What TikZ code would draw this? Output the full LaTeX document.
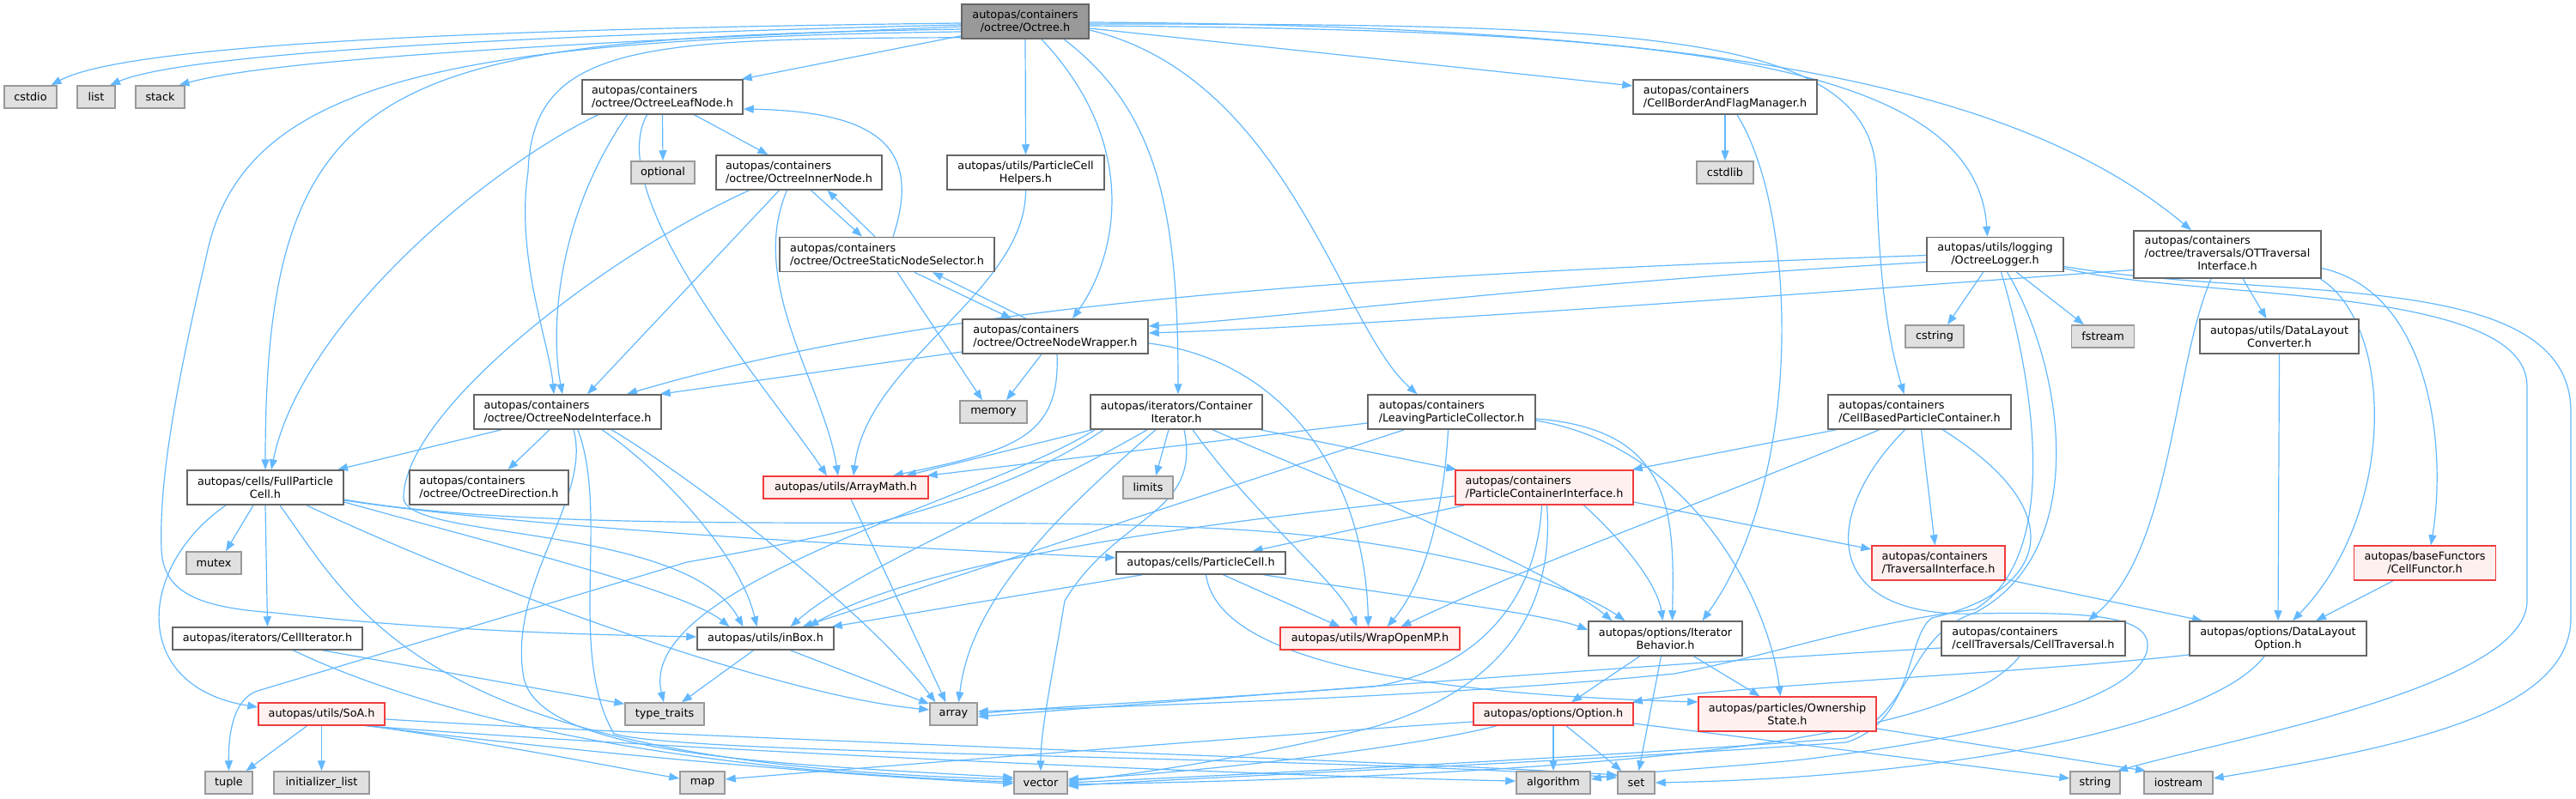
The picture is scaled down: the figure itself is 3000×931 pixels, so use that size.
\documentclass[tikz,border=0pt]{standalone}
\usepackage{fontspec}
\setmainfont{DejaVu Sans}
\usetikzlibrary{arrows.meta}
\pgfdeclarelayer{edgelayer}
\pgfsetlayers{edgelayer,main}
\definecolor{edgec}{HTML}{63B8FF}
\definecolor{bd}{HTML}{666666}
\definecolor{bdl}{HTML}{999999}
\definecolor{gfill}{HTML}{E0E0E0}
\definecolor{rfill}{HTML}{FFF0F0}
\definecolor{rbd}{HTML}{F03C3C}
\newcommand{\nfnt}{\fontsize{12.8}{15}\selectfont}
\tikzset{
  nb/.style={draw=bd, fill=white, line width=1.5pt, inner sep=0pt, font=\nfnt, text=black},
  gb/.style={nb, draw=bdl, fill=gfill, minimum height=26pt},
  rb/.style={nb, draw=rbd, fill=rfill},
  rootb/.style={nb, fill=bdl},
  hs/.style={minimum height=26pt},
  hl/.style={minimum height=40pt},
  mw/.style={minimum width=#1},
  e/.style={draw=edgec, line width=1.2pt, -{Triangle[length=12pt,width=9pt]}},
}
\begin{document}
\begin{tikzpicture}[x=1pt,y=-1pt]
\useasboundingbox (0,0) rectangle (3000,931);
% ---------------- nodes ----------------
\node[rootb, mw=148pt, hl, align=center] (root) at (1194,25) {autopas/containers\\/octree/Octree.h};
\node[gb, mw=61pt] (cstdio) at (35.5,113) {cstdio};
\node[gb, mw=44pt] (list) at (112,113) {list};
\node[gb, mw=57pt] (stack) at (186.5,113) {stack};
\node[nb, mw=187pt, hl, align=left] (leaf) at (771.5,113) {autopas/containers\\/octree/OctreeLeafNode.h};
\node[gb, mw=74pt] (optional) at (772,201) {optional};
\node[nb, mw=193pt, hl, align=left] (inner) at (930.5,201) {autopas/containers\\/octree/OctreeInnerNode.h};
\node[nb, mw=183pt, hl, align=center] (pch) at (1194.5,201) {autopas/utils/ParticleCell\\Helpers.h};
\node[nb, mw=250pt, hl, align=left] (sel) at (1033,296.5) {autopas/containers\\/octree/OctreeStaticNodeSelector.h};
\node[nb, mw=216pt, hl, align=left] (wrap) at (1229,392) {autopas/containers\\/octree/OctreeNodeWrapper.h};
\node[gb, mw=78pt] (memory) at (1157,480) {memory};
\node[nb, mw=214pt, hl, align=left] (cbafm) at (2009,113) {autopas/containers\\/CellBorderAndFlagManager.h};
\node[gb, mw=66pt] (cstdlib) at (2009,201) {cstdlib};
\node[nb, mw=159pt, hl, align=center] (logger) at (2323.5,296.5) {autopas/utils/logging\\/OctreeLogger.h};
\node[gb, mw=68pt] (cstring) at (2253,392) {cstring};
\node[gb, mw=73pt] (fstream) at (2449,392) {fstream};
\node[nb, mw=218pt, minimum height=55pt] (ott) at (2594,296.5) {\begin{tabular}{@{}l@{}}autopas/containers\\/octree/traversals/OTTraversal\\\multicolumn{1}{@{}c@{}}{Interface.h}\end{tabular}};
\node[nb, mw=185pt, hl, align=center] (dlc) at (2654.5,392) {autopas/utils/DataLayout\\Converter.h};
\node[nb, mw=218pt, hl, align=left] (nif) at (661,480) {autopas/containers\\/octree/OctreeNodeInterface.h};
\node[nb, mw=200pt, hl, align=center] (cit) at (1370,480) {autopas/iterators/Container\\Iterator.h};
\node[nb, mw=195pt, hl, align=left] (lpc) at (1690.5,480) {autopas/containers\\/LeavingParticleCollector.h};
\node[nb, mw=213pt, hl, align=left] (cbpc) at (2235.5,480) {autopas/containers\\/CellBasedParticleContainer.h};
\node[nb, mw=182pt, hl, align=center] (fpc) at (309,568) {autopas/cells/FullParticle\\Cell.h};
\node[nb, mw=185pt, hl, align=left] (odir) at (569.5,568) {autopas/containers\\/octree/OctreeDirection.h};
\node[rb, mw=192pt, hs] (amath) at (985,568) {autopas/utils/ArrayMath.h};
\node[gb, mw=58pt] (limits) at (1337,568) {limits};
\node[rb, mw=207pt, hl, align=left] (pci) at (1798.5,568) {autopas/containers\\/ParticleContainerInterface.h};
\node[gb, mw=64pt] (mutex) at (249,656) {mutex};
\node[nb, mw=197pt, hs] (pcell) at (1398.5,656) {autopas/cells/ParticleCell.h};
\node[rb, mw=155pt, hl, align=left] (tif) at (2257.5,656) {autopas/containers\\/TraversalInterface.h};
\node[rb, mw=165pt, hl, align=center] (cfun) at (2824,656) {autopas/baseFunctors\\/CellFunctor.h};
\node[nb, mw=221pt, hs] (citer) at (311.5,744) {autopas/iterators/CellIterator.h};
\node[nb, mw=159pt, hs] (inbox) at (891.5,744) {autopas/utils/inBox.h};
\node[rb, mw=209pt, hs] (womp) at (1595.5,744) {autopas/utils/WrapOpenMP.h};
\node[nb, mw=179pt, hl, align=center] (ibeh) at (1939.5,744) {autopas/options/Iterator\\Behavior.h};
\node[nb, mw=214pt, hl, align=left] (ctrav) at (2368,744) {autopas/containers\\/cellTraversals/CellTraversal.h};
\node[nb, mw=206pt, hl, align=center] (dlo) at (2653,744) {autopas/options/DataLayout\\Option.h};
\node[rb, mw=147pt, hs] (soa) at (374.5,832) {autopas/utils/SoA.h};
\node[gb, mw=92pt] (ttraits) at (774,832) {type\_traits};
\node[gb, mw=55pt] (array) at (1110.5,832) {array};
\node[rb, mw=186pt, hs] (option) at (1809,832) {autopas/options/Option.h};
\node[rb, mw=207pt, hl, align=center] (own) at (2081.5,832) {autopas/particles/Ownership\\State.h};
\node[gb, mw=55pt] (tuple) at (266.5,912) {tuple};
\node[gb, mw=111pt] (initl) at (374.5,912) {initializer\_list};
\node[gb, mw=52pt] (map) at (818,912) {map};
\node[gb, mw=62pt] (vector) at (1212,912) {vector};
\node[gb, mw=86pt] (algo) at (1809,912) {algorithm};
\node[gb, mw=43pt] (set) at (1905.5,912) {set};
\node[gb, mw=58pt] (string) at (2440,912) {string};
\node[gb, mw=80pt] (iostream) at (2537,912) {iostream};
% ---------------- edges ----------------
\begin{pgfonlayer}{edgelayer}
% root
\draw[e] ([yshift=-2pt]root.west) .. controls (600,33) and (150,50) .. ([xshift=24pt]cstdio.north);
\draw[e] ([yshift=-4pt]root.west) .. controls (650,40) and (220,60) .. ([xshift=16pt]list.north);
\draw[e] ([yshift=-6pt]root.west) .. controls (700,48) and (320,68) .. ([xshift=22pt]stack.north);
\draw[e] ([yshift=-9pt]root.west) .. controls (450,45) and (309,80) .. (fpc.north);
\draw[e] ([yshift=-12pt]root.west) .. controls (500,45) and (280,100) .. (240,300) .. controls (205,450) and (185,560) .. (188,640) .. controls (190,690) and (230,708) .. (320,714) .. controls (500,735) and (700,740) .. ([yshift=2pt]inbox.west);
\draw[e] ([yshift=2pt]root.south west) .. controls (750,45) and (620,50) .. (615,200) .. controls (600,300) and (640,400) .. ([xshift=-16pt]nif.north);
\draw[e] ([yshift=4pt]root.south west) -- ([xshift=-2pt]leaf.north east);
\draw[e] (root.south) -- (pch.north);
\draw[e] ([xshift=19pt]root.south) .. controls (1330,170) and (1300,300) .. ([xshift=20pt]wrap.north);
\draw[e] ([xshift=45pt]root.south) .. controls (1350,130) and (1372,250) .. ([xshift=2pt]cit.north);
\draw[e] ([yshift=-10pt]root.east) .. controls (1500,90) and (1560,380) .. ([xshift=-40pt]lpc.north);
\draw[e] ([yshift=-8pt]root.east) -- ([yshift=13pt]cbafm.west);
\draw[e] ([yshift=-3pt]root.east) .. controls (1900,28) and (2175,35) .. (2185,200) .. controls (2188,330) and (2200,400) .. ([xshift=-18pt]cbpc.north);
\draw[e] ([yshift=-5pt]root.east) .. controls (1900,35) and (2300,60) .. ([xshift=-9pt]logger.north);
\draw[e] ([yshift=-1pt]root.east) .. controls (2000,30) and (2350,100) .. ([xshift=-42pt]ott.north);
% leaf
\draw[e] (leaf.south) -- (optional.north);
\draw[e] ([xshift=37pt]leaf.south) -- ([xshift=-36pt]inner.north);
\draw[e] ([xshift=-75pt]leaf.south) .. controls (560,200) and (350,380) .. ([xshift=7pt]fpc.north);
\draw[e] ([xshift=-41pt]leaf.south) .. controls (650,250) and (640,380) .. ([xshift=-6pt]nif.north);
\draw[e] ([xshift=-18pt]leaf.south) .. controls (700,230) and (900,460) .. ([xshift=-22pt]amath.north);
% inner
\draw[e] ([xshift=14pt]inner.south) -- ([xshift=-29pt]sel.north);
\draw[e] ([xshift=-23pt]inner.south) -- ([xshift=23pt]nif.north);
\draw[e] ([xshift=-58pt]inner.south) .. controls (700,300) and (470,480) .. (470,580) .. controls (470,630) and (800,610) .. ([xshift=-26pt]inbox.north);
\draw[e] ([xshift=-14pt]inner.south) .. controls (870,330) and (960,450) .. ([xshift=-9pt]amath.north);
% selector
\draw[e] ([xshift=7pt]sel.north) .. controls (1075,170) and (1020,130) .. ([yshift=-14pt]leaf.east);
\draw[e] ([xshift=-14pt]sel.north) -- ([xshift=33pt]inner.south);
\draw[e] ([xshift=32pt]sel.south) -- ([xshift=-51pt]wrap.north);
\draw[e] ([xshift=12pt]sel.south) -- ([xshift=-13pt]memory.north);
% helpers
\draw[e] (pch.south) .. controls (1195,340) and (1010,420) .. ([xshift=9pt]amath.north);
% wrapper
\draw[e] ([xshift=-34pt]wrap.north) -- ([xshift=53pt]sel.south);
\draw[e] ([yshift=-18pt]wrap.west) -- ([xshift=-2pt]nif.north east);
\draw[e] ([xshift=-16pt]wrap.south) -- ([xshift=15pt]memory.north);
\draw[e] ([xshift=2pt]wrap.south) .. controls (1235,510) and (1180,525) .. ([xshift=55pt]amath.north);
\draw[e] ([yshift=-8pt]wrap.east) .. controls (1500,420) and (1590,560) .. ([xshift=-2pt]womp.north);
% cell border manager
\draw[e] (cbafm.south) -- (cstdlib.north);
\draw[e] ([xshift=14pt]cbafm.south) .. controls (2095,250) and (2100,560) .. ([xshift=43pt]ibeh.north);
% logger
\draw[e] ([yshift=-1pt]logger.west) .. controls (1600,320) and (1100,350) .. ([xshift=69pt]nif.north);
\draw[e] ([yshift=-9pt]logger.west) .. controls (1800,330) and (1500,370) .. ([yshift=12pt]wrap.east);
\draw[e] ([xshift=-14pt]logger.south) -- ([xshift=15pt]cstring.north);
\draw[e] ([xshift=25pt]logger.south) -- ([xshift=-22pt]fstream.north);
\draw[e] ([xshift=7pt]logger.south) .. controls (2370,450) and (2400,650) .. (2300,710) .. controls (2150,730) and (2080,760) .. (1950,785) .. controls (1700,810) and (1400,820) .. ([yshift=3pt]array.east);
\draw[e] ([xshift=14pt]logger.south) .. controls (2400,420) and (2440,640) .. (2300,714) .. controls (2220,740) and (2230,830) .. (2150,860) .. controls (1900,880) and (1500,900) .. (vector.east);
\draw[e] ([yshift=-16pt]logger.east) .. controls (2550,350) and (2943,330) .. (2943,450) -- (2943,700) .. controls (2943,800) and (2600,860) .. ([xshift=26pt]string.north);
\draw[e] ([yshift=-14pt]logger.east) .. controls (2650,352) and (2994,310) .. (2994,480) -- (2994,720) .. controls (2994,830) and (2800,870) .. ([yshift=5pt]iostream.east);
% OT traversal interface
\draw[e] ([yshift=-18pt]ott.west) .. controls (2200,335) and (1600,380) .. ([yshift=4pt]wrap.east);
\draw[e] ([xshift=-19pt]ott.south) .. controls (2530,430) and (2530,640) .. ([xshift=64pt]ctrav.north);
\draw[e] ([xshift=18pt]ott.south) -- ([xshift=-15pt]dlc.north);
\draw[e] ([xshift=108pt]ott.south) .. controls (2790,380) and (2790,600) .. ([xshift=17pt]dlo.north);
\draw[e] ([yshift=-16pt]ott.east) .. controls (2830,340) and (2850,520) .. ([xshift=7pt]cfun.north);
% data layout
\draw[e] (dlc.south) -- (dlo.north);
\draw[e] ([xshift=-37pt]cfun.south) -- ([xshift=44pt]dlo.north);
\draw[e] ([yshift=-19pt]tif.east) -- ([xshift=-88pt]dlo.north);
\draw[e] ([yshift=-19pt]dlo.west) .. controls (2350,785) and (2000,800) .. ([xshift=-2pt]option.north east);
\draw[e] ([xshift=-16pt]dlo.south) .. controls (2580,840) and (2300,905) .. (set.east);
% cell traversal
\draw[e] ([yshift=-11pt]ctrav.west) .. controls (1900,775) and (1400,815) .. ([yshift=-3pt]array.east);
\draw[e] ([xshift=-16pt]ctrav.south) .. controls (2300,830) and (2100,900) .. ([yshift=-2pt]vector.east);
% option
\draw[e] (option.south) -- (algo.north);
\draw[e] ([xshift=15pt]option.south) -- ([xshift=-17pt]set.north);
\draw[e] ([yshift=-11pt]option.east) -- ([yshift=5pt]string.west);
\draw[e] ([yshift=-9pt]option.west) .. controls (1500,855) and (1000,895) .. ([yshift=4pt]map.east);
\draw[e] ([xshift=-66pt]option.south) .. controls (1650,870) and (1400,900) .. ([yshift=4pt]vector.east);
% iterator behavior
\draw[e] ([xshift=-30pt]ibeh.south) -- ([xshift=21pt]option.north);
\draw[e] ([xshift=-5pt]ibeh.south) -- ([xshift=3pt]set.north);
\draw[e] ([xshift=33pt]ibeh.south) -- ([xshift=-32pt]own.north);
% ownership
\draw[e] ([yshift=-17pt]own.east) -- ([xshift=-38pt]iostream.north);
% SoA
\draw[e] ([xshift=-17pt]soa.south) -- ([xshift=20pt]tuple.north);
\draw[e] (soa.south) -- (initl.north);
\draw[e] ([xshift=56pt]soa.south) .. controls (600,870) and (720,895) .. ([yshift=5pt]map.west);
\draw[e] ([xshift=53pt]soa.south) .. controls (700,880) and (1000,905) .. ([yshift=-1pt]vector.west);
\draw[e] ([xshift=51pt]soa.south) .. controls (800,875) and (1500,905) .. ([yshift=2pt]algo.west);
\draw[e] ([yshift=-6pt]soa.east) .. controls (800,860) and (1600,885) .. ([yshift=9pt]set.west);
% cell iterator, inBox, ArrayMath
\draw[e] ([xshift=30pt]citer.south) .. controls (450,810) and (700,895) .. ([yshift=1pt]vector.west);
\draw[e] ([xshift=64pt]citer.south) -- ([yshift=-2pt]ttraits.north west);
\draw[e] ([xshift=-14pt]inbox.south) -- ([xshift=20pt]ttraits.north);
\draw[e] ([xshift=29pt]inbox.south) -- ([yshift=-2pt]array.north west);
\draw[e] ([xshift=6pt]amath.south) -- ([xshift=-9pt]array.north);
% full particle cell
\draw[e] ([xshift=-46pt]fpc.south) .. controls (160,660) and (150,800) .. ([yshift=8pt]soa.west);
\draw[e] ([xshift=-14pt]fpc.south) -- ([xshift=14pt]mutex.north);
\draw[e] (fpc.south) -- (citer.north);
\draw[e] ([xshift=17pt]fpc.south) .. controls (420,720) and (500,890) .. ([yshift=4pt]vector.west);
\draw[e] ([xshift=48pt]fpc.south) .. controls (550,680) and (900,810) .. ([yshift=5pt]array.west);
\draw[e] ([yshift=-15pt]fpc.east) .. controls (650,620) and (1100,640) .. ([yshift=6pt]pcell.west);
\draw[e] ([yshift=-14pt]fpc.east) .. controls (650,625) and (1100,600) .. (1400,615) .. controls (1650,625) and (1830,680) .. ([xshift=-47pt]ibeh.north);
\draw[e] ([yshift=-17pt]fpc.east) .. controls (600,640) and (800,690) .. ([xshift=-42pt]inbox.north);
% node interface
\draw[e] ([xshift=-77pt]nif.south) -- ([xshift=84pt]fpc.north);
\draw[e] ([xshift=-21pt]nif.south) -- ([xshift=22pt]odir.north);
\draw[e] ([xshift=7pt]nif.south) .. controls (690,580) and (590,680) .. (610,790) .. controls (630,880) and (900,890) .. ([yshift=6pt]vector.west);
\draw[e] ([xshift=12pt]nif.south) .. controls (710,600) and (660,760) .. (715,855) .. controls (800,880) and (1500,880) .. ([yshift=6pt]set.west);
\draw[e] ([xshift=40pt]nif.south) .. controls (760,540) and (860,640) .. ([xshift=-10pt]inbox.north);
\draw[e] ([xshift=51pt]nif.south) .. controls (780,540) and (1000,700) .. ([xshift=-21pt]array.north);
% container iterator
\draw[e] ([xshift=98pt]cit.south) -- ([xshift=2pt]pci.north west);
\draw[e] ([xshift=-98pt]cit.south) -- ([xshift=70pt]amath.north);
\draw[e] ([xshift=-85pt]cit.south) .. controls (1170,580) and (1000,620) .. (800,655) -- (300,805) .. controls (270,815) and (266,860) .. (tuple.north);
\draw[e] ([xshift=-34pt]cit.south) .. controls (1200,580) and (1000,660) .. ([xshift=29pt]inbox.north);
\draw[e] ([xshift=-24pt]cit.south) .. controls (1230,600) and (1130,700) .. ([xshift=6pt]array.north);
\draw[e] ([xshift=-9pt]cit.south) -- ([xshift=9pt]limits.north);
\draw[e] ([xshift=9pt]cit.south) .. controls (1400,600) and (1300,600) .. (1240,700) .. controls (1225,790) and (1212,850) .. (vector.north);
\draw[e] ([xshift=19pt]cit.south) .. controls (1460,600) and (1560,680) .. ([xshift=-15pt]womp.north);
\draw[e] ([xshift=42pt]cit.south) .. controls (1550,560) and (1800,660) .. ([xshift=-62pt]ibeh.north);
\draw[e] ([xshift=-95pt]cit.south) .. controls (1150,580) and (740,680) .. ([xshift=-1pt]ttraits.north);
% leaving particle collector
\draw[e] ([yshift=-13pt]lpc.west) -- ([xshift=-2pt]amath.north east);
\draw[e] ([xshift=-55pt]lpc.south) -- ([xshift=43pt]inbox.north);
\draw[e] ([xshift=-4pt]lpc.south) .. controls (1680,620) and (1650,690) .. ([xshift=20pt]womp.north);
\draw[e] ([yshift=-8pt]lpc.east) .. controls (1950,500) and (1950,600) .. ([xshift=8pt]ibeh.north);
\draw[e] ([yshift=-10pt]lpc.east) .. controls (1970,520) and (2060,700) .. ([xshift=-8pt]own.north);
% particle container interface
\draw[e] ([xshift=-93pt]pci.south) -- ([xshift=60pt]pcell.north);
\draw[e] ([yshift=-10pt]pci.west) .. controls (1500,600) and (1100,640) .. ([xshift=50pt]inbox.north);
\draw[e] ([xshift=-3pt]pci.south) .. controls (1790,700) and (1720,780) .. (1600,800) .. controls (1400,815) and (1200,825) .. (array.east);
\draw[e] ([xshift=3pt]pci.south) .. controls (1810,700) and (1760,800) .. (1600,847) .. controls (1450,885) and (1300,905) .. ([yshift=2pt]vector.east);
\draw[e] ([xshift=46pt]pci.south) .. controls (1890,630) and (1930,680) .. ([xshift=-3pt]ibeh.north);
\draw[e] ([yshift=-17pt]pci.east) -- ([yshift=16pt]tif.west);
% cell based particle container
\draw[e] ([xshift=-97pt]cbpc.south) -- ([xshift=-2pt]pci.north east);
\draw[e] ([xshift=-47pt]cbpc.south) .. controls (2000,580) and (1800,650) .. ([xshift=36pt]womp.north);
\draw[e] ([xshift=2pt]cbpc.south) -- ([xshift=-4pt]tif.north);
\draw[e] ([xshift=-17pt]cbpc.south) .. controls (2120,600) and (2120,720) .. (2300,715) .. controls (2450,712) and (2510,720) .. (2500,760) .. controls (2480,820) and (2300,860) .. (2100,885) .. controls (2000,895) and (1900,900) .. ([yshift=4pt]algo.east);
\draw[e] ([xshift=27pt]cbpc.south) .. controls (2420,600) and (2380,690) .. (2250,720) .. controls (2220,740) and (2230,840) .. (2150,865) .. controls (1800,890) and (1400,905) .. ([yshift=-4pt]vector.east);
% particle cell
\draw[e] ([xshift=-68pt]pcell.south) -- ([xshift=-3pt]inbox.north east);
\draw[e] ([xshift=6pt]pcell.south) .. controls (1420,780) and (1700,810) .. ([yshift=14pt]own.west);
\draw[e] ([xshift=26pt]pcell.south) -- ([xshift=-35pt]womp.north);
\draw[e] ([xshift=73pt]pcell.south) .. controls (1600,690) and (1800,715) .. ([yshift=10pt]ibeh.west);
\end{pgfonlayer}
\end{tikzpicture}
\end{document}
